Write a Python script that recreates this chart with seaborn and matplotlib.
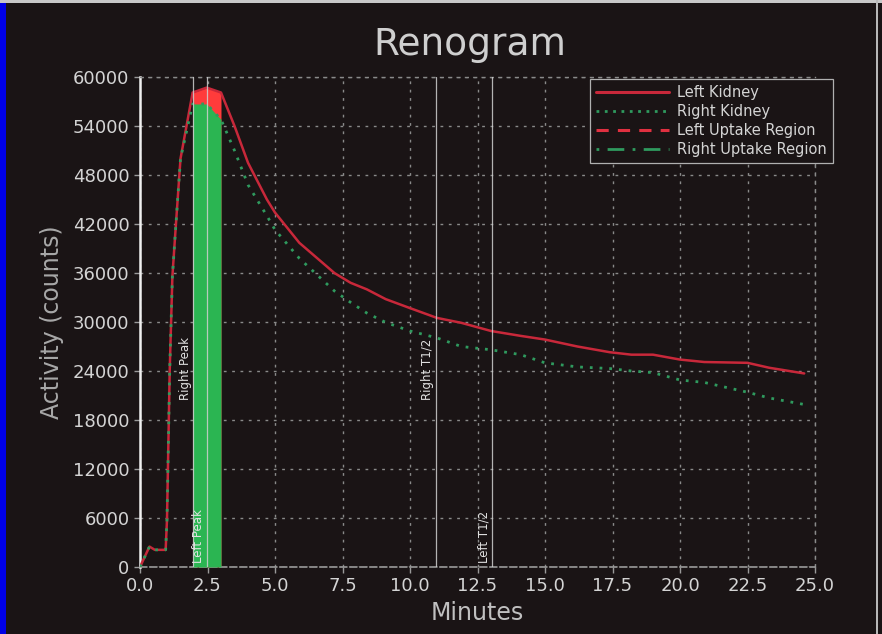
import numpy as np
import pandas as pd
import matplotlib
matplotlib.use("Agg")
import matplotlib.pyplot as plt
from matplotlib.lines import Line2D
from matplotlib.patches import Rectangle
import seaborn as sns

# ---- data ----
minutes = [0.0, 0.35, 0.55, 0.95, 1.0, 1.1, 1.2, 1.3, 1.5, 1.95, 2.47, 3.0, 3.5,
           4.0, 4.7, 5.0, 5.9, 7.2, 7.8, 8.4, 9.1, 10.0, 11.0, 11.9, 13.0, 14.1,
           15.0, 16.2, 17.4, 18.2, 19.0, 20.0, 20.9, 22.5, 23.3, 24.6]
left_kidney = [0, 2500, 2100, 2100, 5800, 24000, 35600, 40500, 50000, 58100, 58700,
               58100, 54000, 49500, 45000, 43400, 39700, 36000, 34800, 34000, 32800,
               31700, 30500, 29900, 28900, 28300, 27850, 27000, 26300, 26000, 26000,
               25400, 25100, 25000, 24400, 23700]
right_kidney = [0, 2500, 2100, 2100, 5800, 24000, 35600, 40500, 50000, 56700, 56700,
                54800, 51000, 46800, 43000, 41300, 37800, 33800, 32400, 31100, 29950,
                28900, 28050, 27000, 26600, 26000, 25000, 24500, 24300, 24000, 23800,
                22900, 22600, 21400, 20700, 19900]
uptake_region = [1.95, 3.0]
markers_x = [1.97, 2.47, 10.96, 13.05]
markers_label = ["Right Peak", "Left Peak", "Right T1/2", "Left T1/2"]
markers_text_y = [20500, 500, 20500, 500]
x_ticks = [0.0, 2.5, 5.0, 7.5, 10.0, 12.5, 15.0, 17.5, 20.0, 22.5, 25.0]
y_ticks = [0, 6000, 12000, 18000, 24000, 30000, 36000, 42000, 48000, 54000, 60000]
legend_labels = ["Left Kidney", "Right Kidney", "Left Uptake Region", "Right Uptake Region"]

df = pd.DataFrame({"Minutes": minutes, "Left": left_kidney, "Right": right_kidney})

BG = "#1a1415"
FG = "#d4d4d4"
RED_LINE = "#c8283a"
GREEN_LINE = "#2f9a5e"
RED_FILL = "#ff3b3b"
GREEN_FILL = "#2bb552"

sns.set_theme(style="dark")
plt.rcParams["font.family"] = ["DejaVu Sans"]

fig = plt.figure(figsize=(8.82, 6.34), dpi=100, facecolor=BG)
ax = fig.add_axes([140 / 882, 1 - 567 / 634, (815 - 140) / 882, (567 - 77) / 634])
ax.set_facecolor(BG)

# frame decorations of the screenshot
fig.patches.append(Rectangle((0, 0), 6 / 882, 1, transform=fig.transFigure,
                             facecolor="#0000e6", edgecolor="none", zorder=-5))
fig.patches.append(Rectangle((0, 1 - 3 / 634), 1, 3 / 634, transform=fig.transFigure,
                             facecolor="#c8c8c8", edgecolor="none", zorder=-5))
fig.patches.append(Rectangle((876 / 882, 0), 2 / 882, 1, transform=fig.transFigure,
                             facecolor="#b8b8b8", edgecolor="none", zorder=-5))

# uptake region fills
mask = (df["Minutes"] >= uptake_region[0]) & (df["Minutes"] <= uptake_region[1])
sub = df[mask]
ax.fill_between(sub["Minutes"], 0, sub["Left"], color=RED_FILL, lw=0, zorder=2)
ax.fill_between(sub["Minutes"], 0, sub["Right"], color=GREEN_FILL, lw=0, zorder=3)

# curves
sns.lineplot(data=df, x="Minutes", y="Left", ax=ax, color=RED_LINE, lw=1.8, zorder=4)
sns.lineplot(data=df, x="Minutes", y="Right", ax=ax, color=GREEN_LINE, lw=2.0,
             linestyle=(0, (1, 2.5)), zorder=5)

# marker lines and labels
for xv, lab, ty in zip(markers_x, markers_label, markers_text_y):
    ax.axvline(xv, color="#d0d0d0", lw=0.9, alpha=0.85, zorder=6)
    ax.text(xv - 0.3, ty, lab, rotation=90, ha="center", va="bottom",
            color="#e2e2e2", fontsize=8.5, zorder=7)

ax.set_xlim(0, 25)
ax.set_ylim(0, 60000)
ax.set_xticks(x_ticks)
ax.set_xticklabels([f"{v:.1f}" for v in x_ticks])
ax.set_yticks(y_ticks)
ax.set_yticklabels([str(v) for v in y_ticks])
ax.tick_params(colors="#9a9a9a", labelcolor=FG, labelsize=13, length=4, width=1,
               bottom=True, left=True)

ax.grid(True, color="#8a8a8a", linestyle=(0, (2, 4)), lw=1.0)
for s in ["top", "right"]:
    ax.spines[s].set_visible(True)
    ax.spines[s].set_color("#8a8a8a")
    ax.spines[s].set_linestyle((0, (2, 4)))
    ax.spines[s].set_linewidth(1.0)
ax.spines["left"].set_color("#f0f0f0")
ax.spines["left"].set_linewidth(1.8)
ax.spines["bottom"].set_color("#9a9a9a")
ax.spines["bottom"].set_linestyle((0, (4, 2)))
ax.spines["bottom"].set_linewidth(1.2)

ax.set_xlabel("Minutes", color="#c0c0c0", fontsize=17, labelpad=4)
ax.set_ylabel("Activity (counts)", color="#a8a8a8", fontsize=17, labelpad=6)
fig.text(470 / 882, 1 - 45 / 634, "Renogram", ha="center", va="center",
         color="#cfcfcf", fontsize=27)

handles = [
    Line2D([], [], color=RED_LINE, lw=2.2),
    Line2D([], [], color=GREEN_LINE, lw=2.0, linestyle=(0, (1, 2))),
    Line2D([], [], color="#e03040", lw=2.2, linestyle=(0, (4, 3))),
    Line2D([], [], color=GREEN_LINE, lw=2.0, linestyle=(0, (1, 3, 6, 3))),
]
leg = ax.legend(handles, legend_labels, loc="upper right",
                bbox_to_anchor=(833 / 882, 1 - 79 / 634), bbox_transform=fig.transFigure,
                borderaxespad=0, fontsize=10.5, handlelength=5.0, labelspacing=0.28,
                frameon=True, fancybox=False, facecolor=BG, edgecolor="#b0b0b0",
                framealpha=1, borderpad=0.4, handletextpad=0.6)
for t in leg.get_texts():
    t.set_color(FG)
leg.get_frame().set_linewidth(0.9)

fig.savefig("out.png", dpi=100, facecolor=BG)
